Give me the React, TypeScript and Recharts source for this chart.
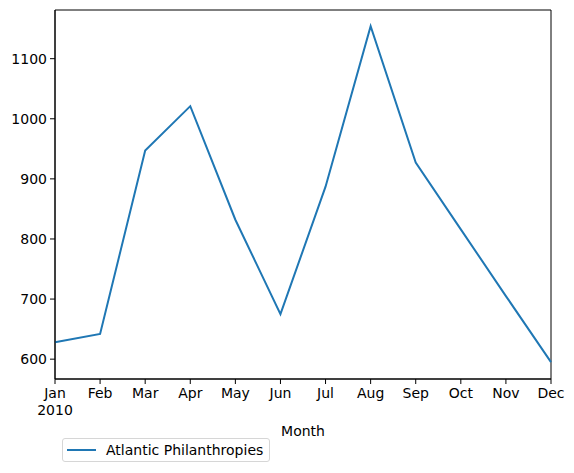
import React from "react";
import { LineChart, Line, XAxis, YAxis, Legend, ReferenceArea } from "recharts";

// Data
const months = ["Jan", "Feb", "Mar", "Apr", "May", "Jun", "Jul", "Aug", "Sep", "Oct", "Nov", "Dec"];
const atlantic = [628, 642, 947, 1021, 832, 675, 887, 1154, 927, 816, 705, 595];
const yTicks = [600, 700, 800, 900, 1000, 1100];
const yDomain = [567, 1181];
const seriesName = "Atlantic Philanthropies";

const data = months.map((m, i) => ({ month: m, value: atlantic[i] }));

const FONT = "'DejaVu Sans', sans-serif";
const BLUE = "#1f77b4";

// Month tick, with the year under the first one like pandas does
const MonthTick = ({ x, y, payload, index }: any) => (
  <g transform={`translate(${x},${y})`}>
    <text textAnchor="middle" fontSize={14} fontFamily={FONT} fill="#000" dy="0.71em">
      {payload.value}
    </text>
    {index === 0 && (
      <text textAnchor="middle" fontSize={14} fontFamily={FONT} fill="#000" dy="1.95em">
        2010
      </text>
    )}
  </g>
);

const LegendBox = () => (
  <div
    style={{
      display: "flex",
      alignItems: "center",
      border: "1px solid #d6d6d6",
      borderRadius: 3,
      background: "#fff",
      padding: "3px 6px 3px 3px",
      fontFamily: FONT,
      fontSize: 14,
      color: "#000",
      whiteSpace: "nowrap",
    }}
  >
    <svg width={30} height={10} style={{ marginRight: 10 }}>
      <line x1={1} y1={5} x2={30} y2={5} stroke={BLUE} strokeWidth={2} />
    </svg>
    {seriesName}
  </div>
);

export default function App() {
  return (
    <div style={{ position: "absolute", left: 0, top: 0, width: 574, height: 473, background: "#fff" }}>
      <LineChart width={574} height={473} data={data} margin={{ top: 10, right: 23, left: 0, bottom: 0 }}>
        <XAxis
          dataKey="month"
          interval={0}
          height={94}
          padding={{ left: 0, right: 0 }}
          stroke="#000"
          tickSize={5}
          tickMargin={4}
          tick={<MonthTick />}
          label={{ value: "Month", position: "insideTop", offset: 47, fontSize: 14, fontFamily: FONT, fill: "#000" }}
        />
        <YAxis
          type="number"
          domain={yDomain}
          ticks={yTicks}
          allowDataOverflow
          width={55}
          stroke="#000"
          tickSize={5}
          tickMargin={3}
          tick={{ fontSize: 14, fontFamily: FONT, fill: "#000" }}
        />
        {/* frame around the plot area */}
        <ReferenceArea
          x1={months[0]}
          x2={months[months.length - 1]}
          y1={yDomain[0]}
          y2={yDomain[1]}
          fill="none"
          stroke="#000"
          strokeWidth={1}
          ifOverflow="visible"
        />
        <Legend
          layout="horizontal"
          verticalAlign="middle"
          align="center"
          content={<LegendBox />}
          wrapperStyle={{ left: 62, top: 438, width: "auto", height: "auto" }}
        />
        <Line
          type="linear"
          dataKey="value"
          name={seriesName}
          stroke={BLUE}
          strokeWidth={2}
          dot={false}
          activeDot={false}
          isAnimationActive={false}
        />
      </LineChart>
    </div>
  );
}
